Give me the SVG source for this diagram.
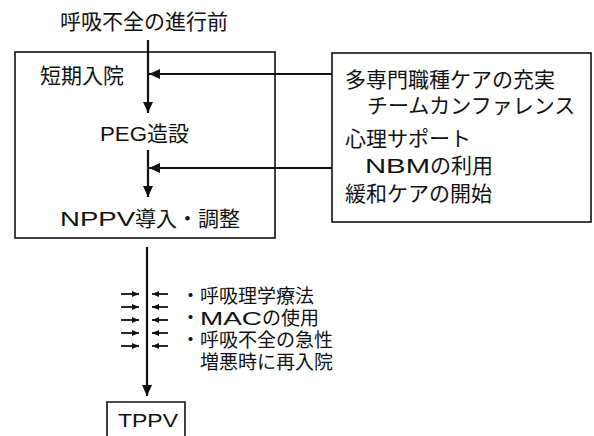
<svg xmlns="http://www.w3.org/2000/svg" width="594" height="436" viewBox="0 0 594 436">
<style>
text{font-family:"Liberation Sans","Noto Sans CJK JP",sans-serif;fill:#111;}
.t{font-size:21px;}
.s{font-size:19px;}
.box{fill:none;stroke:#111;stroke-width:1.6;}
.ln{stroke:#111;stroke-width:2.2;fill:none;}
.sl{stroke:#111;stroke-width:1.8;fill:none;}
</style>
<defs>
<marker id="ah" markerUnits="userSpaceOnUse" markerWidth="11" markerHeight="11" viewBox="0 0 11 11" refX="11" refY="5.5" orient="auto">
<path d="M0,0.5 L11,5.5 L0,10.5 Z" fill="#111"/>
</marker>
<marker id="sh" markerUnits="userSpaceOnUse" markerWidth="7" markerHeight="7" viewBox="0 0 7 7" refX="7" refY="3.5" orient="auto">
<path d="M0,0.5 L7,3.5 L0,6.5 Z" fill="#111"/>
</marker>
</defs>
<g id="title"><text class="t" x="60" y="29">呼吸不全の進行前</text></g>
<g id="left-box">
<rect class="box" x="15" y="52" width="260" height="186"/>
<text class="t" x="40" y="83">短期入院</text>
<text class="t" x="100" y="141"><tspan textLength="47" lengthAdjust="spacingAndGlyphs">PEG</tspan>造設</text>
<text class="t" x="60" y="226"><tspan textLength="75" lengthAdjust="spacingAndGlyphs">NPPV</tspan>導入・調整</text>
</g>
<g id="right-box">
<rect class="box" x="332" y="53" width="259" height="169"/>
<text class="t" x="345" y="87">多専門職種ケアの充実</text>
<text class="t" x="367" y="113">チームカンファレンス</text>
<text class="t" x="345" y="146">心理サポート</text>
<text class="t" x="365" y="173"><tspan textLength="65" lengthAdjust="spacingAndGlyphs">NBM</tspan>の利用</text>
<text class="t" x="345" y="201">緩和ケアの開始</text>
</g>
<g id="notes">
<text class="s" x="181" y="303">・呼吸理学療法</text>
<text class="s" x="181" y="325">・<tspan textLength="62" lengthAdjust="spacingAndGlyphs">MAC</tspan>の使用</text>
<text class="s" x="181" y="347">・呼吸不全の急性</text>
<text class="s" x="200" y="369">増悪時に再入院</text>
</g>
<g id="tppv">
<path class="box" d="M107,440 V402 H185 V440"/>
<text class="s" x="118" y="427" textLength="60" lengthAdjust="spacingAndGlyphs">TPPV</text>
</g>
<g id="connectors">
<line class="ln" x1="148" y1="40" x2="148" y2="113" marker-end="url(#ah)"/>
<line class="ln" x1="148" y1="150" x2="148" y2="197" marker-end="url(#ah)"/>
<line class="ln" x1="332" y1="74" x2="149" y2="74" marker-end="url(#ah)"/>
<line class="ln" x1="332" y1="168" x2="149" y2="168" marker-end="url(#ah)"/>
<line class="ln" x1="147" y1="247" x2="147" y2="396" marker-end="url(#ah)"/>
<g class="sl">
<line x1="121" y1="294" x2="139" y2="294" marker-end="url(#sh)"/>
<line x1="121" y1="307" x2="139" y2="307" marker-end="url(#sh)"/>
<line x1="121" y1="320" x2="139" y2="320" marker-end="url(#sh)"/>
<line x1="121" y1="333" x2="139" y2="333" marker-end="url(#sh)"/>
<line x1="121" y1="346" x2="139" y2="346" marker-end="url(#sh)"/>
<line x1="168" y1="294" x2="152" y2="294" marker-end="url(#sh)"/>
<line x1="168" y1="307" x2="152" y2="307" marker-end="url(#sh)"/>
<line x1="168" y1="320" x2="152" y2="320" marker-end="url(#sh)"/>
<line x1="168" y1="333" x2="152" y2="333" marker-end="url(#sh)"/>
<line x1="168" y1="346" x2="152" y2="346" marker-end="url(#sh)"/>
</g>
</g>
</svg>
